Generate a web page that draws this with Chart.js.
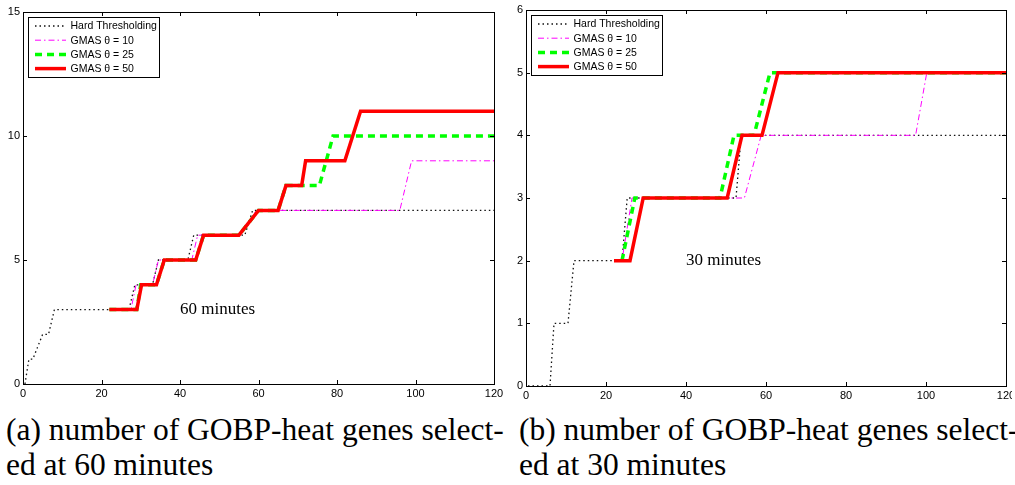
<!DOCTYPE html>
<html>
<head>
<meta charset="utf-8">
<script src="https://cdn.jsdelivr.net/npm/chart.js@4.4.0/dist/chart.umd.min.js"></script>
<style>
  body { margin: 0; background: #fff; }
  #wrap { position: relative; width: 1015px; height: 485px; overflow: hidden; }
  canvas { position: absolute; top: 0; }
  .cap { position: absolute; font-family: 'Liberation Serif', 'Times New Roman', serif; font-size: 31.5px; line-height: 35px; color: #000; white-space: nowrap; }
</style>
</head>
<body>
<div id="wrap">
  <canvas id="c60" width="503" height="404" style="left:0px"></canvas>
  <canvas id="c30" width="509" height="406" style="left:503px"></canvas>
  <div class="cap" style="left:6px; top:412px">(a) number of GOBP-heat genes select-<br>ed at 60 minutes</div>
  <div class="cap" style="left:519px; top:412px">(b) number of GOBP-heat genes select-<br>ed at 30 minutes</div>
</div>
<script>
// libellés et graduations
const seriesLabels = ['Hard Thresholding', 'GMAS θ = 10', 'GMAS θ = 25', 'GMAS θ = 50'];
const xTickVals = [0, 20, 40, 60, 80, 100, 120];
const yTickVals60 = [0, 5, 10, 15];
const yTickVals30 = [0, 1, 2, 3, 4, 5, 6];

// (a) 60 minutes
const hard60X = [0.5, 1.5, 2.5, 5, 6.5, 8, 27, 28.5, 33, 34.5, 42, 43.5, 56.5, 58.5, 120];
const hard60Y = [0, 1, 1, 2, 2, 3, 3, 4, 4, 5, 5, 6, 6, 7, 7];
const g10_60X = [22, 27.5, 28.8, 33, 34.5, 43, 44.5, 55, 59.5, 96, 99, 120];
const g10_60Y = [3, 3, 4, 4, 5, 5, 6, 6, 7, 7, 9, 9];
const g25_60X = [22, 29, 30, 34, 36, 44, 46, 55, 60, 65, 67, 75.5, 79, 120];
const g25_60Y = [3, 3, 4, 4, 5, 5, 6, 6, 7, 7, 8, 8, 10, 10];
const g50_60X = [22, 29, 30.2, 34, 36, 44, 46, 55, 60, 65, 67, 71, 72, 82, 86, 120];
const g50_60Y = [3, 3, 4, 4, 5, 5, 6, 6, 7, 7, 8, 8, 9, 9, 11, 11];

// (b) 30 minutes
const hard30X = [0.5, 6, 7, 10.5, 12, 24, 25.3, 52.5, 53.8, 120];
const hard30Y = [0, 0, 1, 1, 2, 2, 3, 3, 4, 4];
const g10_30X = [22, 24, 26.5, 54.6, 58.8, 97.4, 100.2, 120];
const g10_30Y = [2, 2, 3, 3, 4, 4, 5, 5];
const g25_30X = [24, 27.2, 48.5, 52, 57, 61, 120];
const g25_30Y = [2, 3, 3, 4, 4, 5, 5];
const g50_30X = [22, 26, 29.3, 50.3, 54, 59, 63, 120];
const g50_30Y = [2, 2, 3, 3, 4, 4, 5, 5];

const styles = [
    { borderColor: '#111111', borderWidth: 1.3, borderDash: [1.5, 3], order: 3 },
    { borderColor: '#ff00ff', borderWidth: 1, borderDash: [6, 3, 1.5, 3], order: 2 },
    { borderColor: '#00ff00', borderWidth: 3.5, borderDash: [7, 5], order: 1 },
    { borderColor: '#ff0000', borderWidth: 3.5, borderDash: [], order: 0 }
];

function toPoints(xs, ys) {
    return xs.map((x, i) => ({ x: x, y: ys[i] }));
}

// cadre + graduations vers l'intérieur, sur les quatre côtés
const boxTicks = {
    id: 'boxTicks',
    afterDraw(chart) {
        const ctx = chart.ctx, a = chart.chartArea;
        const xs = chart.scales.x, ys = chart.scales.y;
        ctx.save();
        ctx.strokeStyle = '#000';
        ctx.lineWidth = 1;
        ctx.strokeRect(Math.round(a.left) + 0.5, Math.round(a.top) + 0.5,
            Math.round(a.right - a.left), Math.round(a.bottom - a.top));
        ctx.beginPath();
        xs.ticks.forEach(t => {
            const p = Math.round(xs.getPixelForValue(t.value)) + 0.5;
            ctx.moveTo(p, a.bottom); ctx.lineTo(p, a.bottom - 4);
            ctx.moveTo(p, a.top); ctx.lineTo(p, a.top + 4);
        });
        ys.ticks.forEach(t => {
            const p = Math.round(ys.getPixelForValue(t.value)) + 0.5;
            ctx.moveTo(a.left, p); ctx.lineTo(a.left + 4, p);
            ctx.moveTo(a.right, p); ctx.lineTo(a.right - 4, p);
        });
        ctx.stroke();
        ctx.restore();
    }
};

// légende encadrée dans le coin haut gauche
const legendBox = {
    id: 'legendBox',
    afterDraw(chart) {
        const ctx = chart.ctx, a = chart.chartArea;
        const bx = a.left + 5.5, by = a.top + 5.5;
        ctx.save();
        ctx.fillStyle = '#fff';
        ctx.fillRect(bx, by, 131, 60);
        ctx.strokeStyle = '#000';
        ctx.lineWidth = 1;
        ctx.strokeRect(bx, by, 131, 60);
        ctx.font = "10.5px 'Liberation Sans', Arial, sans-serif";
        ctx.textBaseline = 'middle';
        chart.data.datasets.forEach((ds, i) => {
            const y = by + 8.5 + i * 14.2;
            ctx.beginPath();
            ctx.strokeStyle = ds.borderColor;
            ctx.lineWidth = ds.borderWidth;
            ctx.setLineDash(ds.borderDash);
            ctx.moveTo(bx + 6.5, y);
            ctx.lineTo(bx + 37.5, y);
            ctx.stroke();
            ctx.setLineDash([]);
            ctx.fillStyle = '#000';
            ctx.fillText(ds.label, bx + 42, y + 0.5);
        });
        ctx.restore();
    }
};

// texte dans le graphique, placé en coordonnées de données
const noteText = {
    id: 'noteText',
    afterDatasetsDraw(chart, args, opts) {
        const ctx = chart.ctx;
        ctx.save();
        ctx.font = "17px 'Liberation Serif', serif";
        ctx.fillStyle = '#000';
        ctx.textBaseline = 'middle';
        ctx.fillText(opts.text, chart.scales.x.getPixelForValue(opts.x), chart.scales.y.getPixelForValue(opts.y));
        ctx.restore();
    }
};

function makeChart(canvasId, seriesX, seriesY, yMax, yTicks, note, padTop, padRight) {
    const datasets = seriesLabels.map((lab, i) => Object.assign({
        label: lab,
        data: toPoints(seriesX[i], seriesY[i]),
        pointRadius: 0,
        tension: 0,
        fill: false
    }, styles[i]));

    const tickFont = { family: "'Liberation Sans Narrow', 'Liberation Sans', Arial, sans-serif", size: 11 };

    return new Chart(document.getElementById(canvasId), {
        type: 'line',
        data: { datasets: datasets },
        plugins: [boxTicks, legendBox, noteText],
        options: {
            responsive: false,
            animation: false,
            layout: { padding: { top: padTop, right: padRight, left: 0, bottom: 0 } },
            plugins: {
                legend: { display: false },
                tooltip: { enabled: false },
                noteText: note
            },
            scales: {
                x: {
                    type: 'linear',
                    min: 0, max: 120,
                    grid: { display: false, drawTicks: false },
                    border: { display: false },
                    ticks: { color: '#000', font: tickFont, padding: 3, maxRotation: 0, autoSkip: false },
                    afterBuildTicks: s => { s.ticks = xTickVals.map(v => ({ value: v })); },
                    afterFit: s => { s.height = 20; s.paddingLeft = 0; s.paddingRight = 0; }
                },
                y: {
                    type: 'linear',
                    min: 0, max: yMax,
                    grid: { display: false, drawTicks: false },
                    border: { display: false },
                    ticks: { color: '#000', font: tickFont, padding: 3, autoSkip: false },
                    afterBuildTicks: s => { s.ticks = yTicks.map(v => ({ value: v })); },
                    afterFit: s => { s.width = 23; s.paddingTop = 0; s.paddingBottom = 0; }
                }
            }
        }
    });
}

makeChart('c60',
    [hard60X, g10_60X, g25_60X, g50_60X],
    [hard60Y, g10_60Y, g25_60Y, g50_60Y],
    15, yTickVals60, { text: '60 minutes', x: 40, y: 3 }, 12, 9);

makeChart('c30',
    [hard30X, g10_30X, g25_30X, g50_30X],
    [hard30Y, g10_30Y, g25_30Y, g50_30Y],
    6, yTickVals30, { text: '30 minutes', x: 40, y: 2 }, 10, 6);
</script>
</body>
</html>
